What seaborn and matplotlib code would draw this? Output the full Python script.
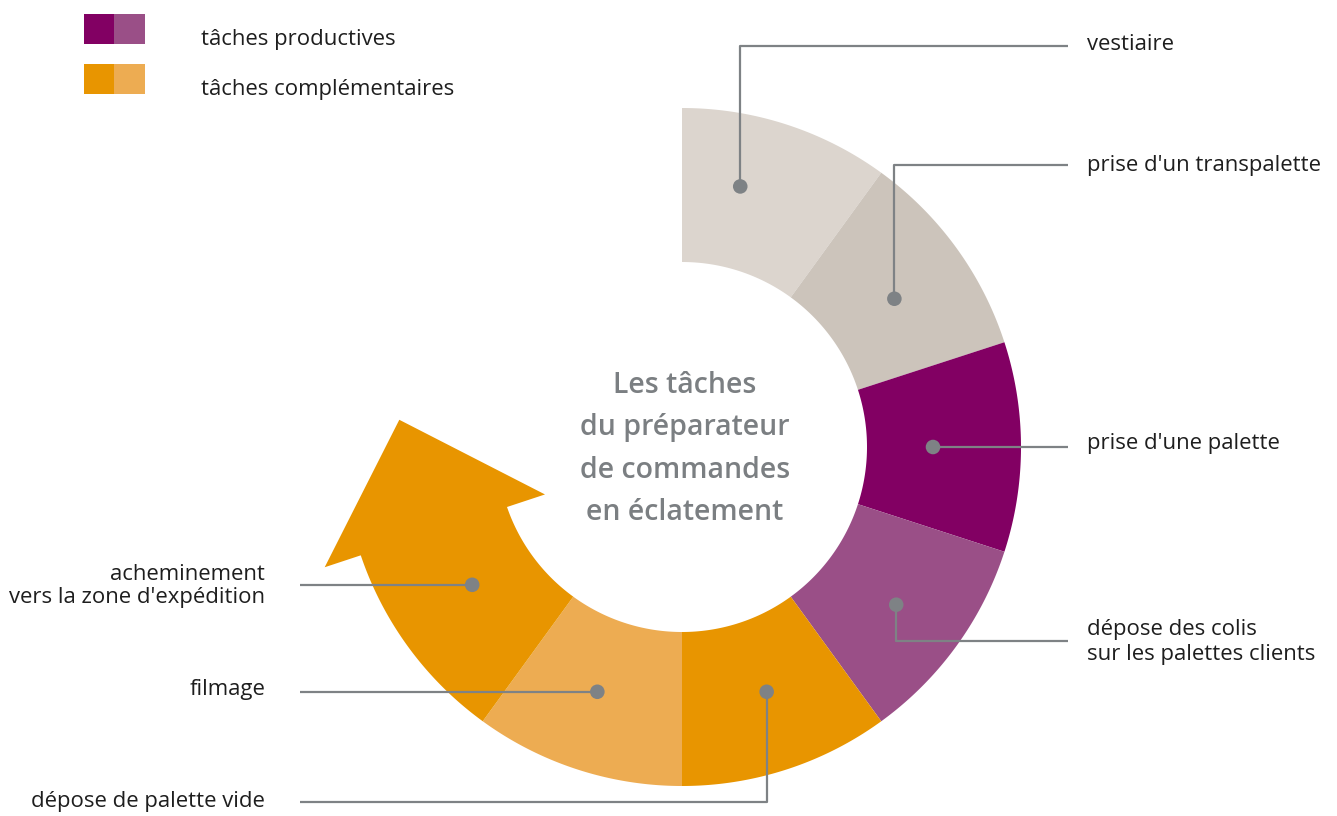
import numpy as np
import pandas as pd
import matplotlib
matplotlib.use("Agg")
import matplotlib.pyplot as plt
from matplotlib.patches import Rectangle
import seaborn as sns

# ---------------- data ----------------
tasks = ["vestiaire",
         "prise d'un transpalette",
         "prise d'une palette",
         "dépose des colis\nsur les palettes clients",
         "dépose de palette vide",
         "filmage",
         "acheminement\nvers la zone d'expédition"]
shares = [1, 1, 1, 1, 1, 1, 1]
categories = ["autre", "autre", "productive", "productive",
              "complémentaire", "complémentaire", "complémentaire"]
seg_colors = ["#DCD5CE", "#CCC4BB", "#820063", "#9A4F87",
              "#E89500", "#EDAC52", "#E89500"]
legend_labels = ["tâches productives", "tâches complémentaires"]
legend_colors = [("#820063", "#9A4F87"), ("#E89500", "#EDAC52")]
center_title = "Les tâches\ndu préparateur\nde commandes\nen éclatement"

# ---------------- layout (pixels) ----------------
W, H = 1337, 816
CX, CY = 682, 447
R_IN, R_OUT = 185, 339
START = 90.0
DEG_PER_SHARE = 36.0
dot_frac = [0.35, 0.53, 0.5, 0.51, 0.47, 0.53, 0.575]
dot_r = [267, 259, 251, 266, 259, 259, 251]
label_side = ["right", "right", "right", "right", "left", "left", "left"]
label_y = [44, 165, 443, 642, 802, 690, 586]
line_y = [46, 165, None, 641, 802, None, None]
RIGHT_END, RIGHT_TXT = 1068, 1087
LEFT_END, LEFT_TXT = 300, 265
GREY = "#7e8285"
FS = 15.9

sns.set_theme(style="white")
plt.rcParams["font.family"] = ["Open Sans", "DejaVu Sans"]

fig = plt.figure(figsize=(W / 100, H / 100), dpi=100)
ax = fig.add_axes([0, 0, 1, 1])
ax.set_xlim(0, W)
ax.set_ylim(H, 0)
ax.axis("off")


def pt(angle_deg, r):
    a = np.deg2rad(angle_deg)
    return CX + r * np.cos(a), CY - r * np.sin(a)


angles = []
a0 = START
for s in shares:
    span = DEG_PER_SHARE * s
    angles.append((a0, a0 - span))
    a0 -= span

for i, ((a_start, a_end), col) in enumerate(zip(angles, seg_colors)):
    if i == len(shares) - 1:
        a_end = a_end + 0.5
    th = np.linspace(a_start, a_end, 80)
    xo, yo = pt(th, R_OUT)
    xi, yi = pt(th[::-1], R_IN)
    xs = np.concatenate([xo, xi])
    ys = np.concatenate([yo, yi])
    ax.fill(xs, ys, color=col, lw=0, zorder=1)
    if i == len(shares) - 1:
        # arrow head
        p1 = pt(a_end + 0.6, 145)
        p2 = pt(a_end + 0.1, 377)
        tip = pt(a_end - 24.0, 284)
        ax.fill([p1[0], p2[0], tip[0]], [p1[1], p2[1], tip[1]],
                color=col, lw=0, zorder=1)

# dots
dots = []
for i, (a_start, a_end) in enumerate(angles):
    ang = a_start + (a_end - a_start) * dot_frac[i]
    x, y = pt(ang, dot_r[i])
    dots.append((x, y))
dots_df = pd.DataFrame({"x": [d[0] for d in dots], "y": [d[1] for d in dots],
                        "task": tasks})
sns.scatterplot(data=dots_df, x="x", y="y", ax=ax, color=GREY, s=110,
                edgecolor="none", zorder=4, legend=False)

# leader lines + labels
for i, (x, y) in enumerate(dots):
    side = label_side[i]
    end_x = RIGHT_END if side == "right" else LEFT_END
    ly = line_y[i] if line_y[i] is not None else y
    ax.plot([x, x, end_x], [y, ly, ly], color=GREY, lw=1.6,
            solid_capstyle="butt", zorder=3)
    if side == "right":
        ax.text(RIGHT_TXT, label_y[i], tasks[i], ha="left", va="center",
                fontsize=FS, color="#1e1e1e", linespacing=1.28)
    else:
        ax.text(LEFT_TXT, label_y[i], tasks[i], ha="right", va="center",
                fontsize=FS, color="#1e1e1e", linespacing=1.08)

# center title
ax.text(CX + 3, 449, center_title, ha="center", va="center", fontsize=20.5,
        fontweight="semibold", color="#7b7f82", linespacing=1.6)

# legend
for j, (lab, (c1, c2)) in enumerate(zip(legend_labels, legend_colors)):
    y0 = 14 + 50 * j
    ax.add_patch(Rectangle((84, y0), 30, 30, color=c1, lw=0))
    ax.add_patch(Rectangle((114, y0), 31, 30, color=c2, lw=0))
    ax.text(201, y0 + 26, lab, ha="left", va="center", fontsize=FS,
            color="#1e1e1e")

fig.savefig("out.png", dpi=100)
